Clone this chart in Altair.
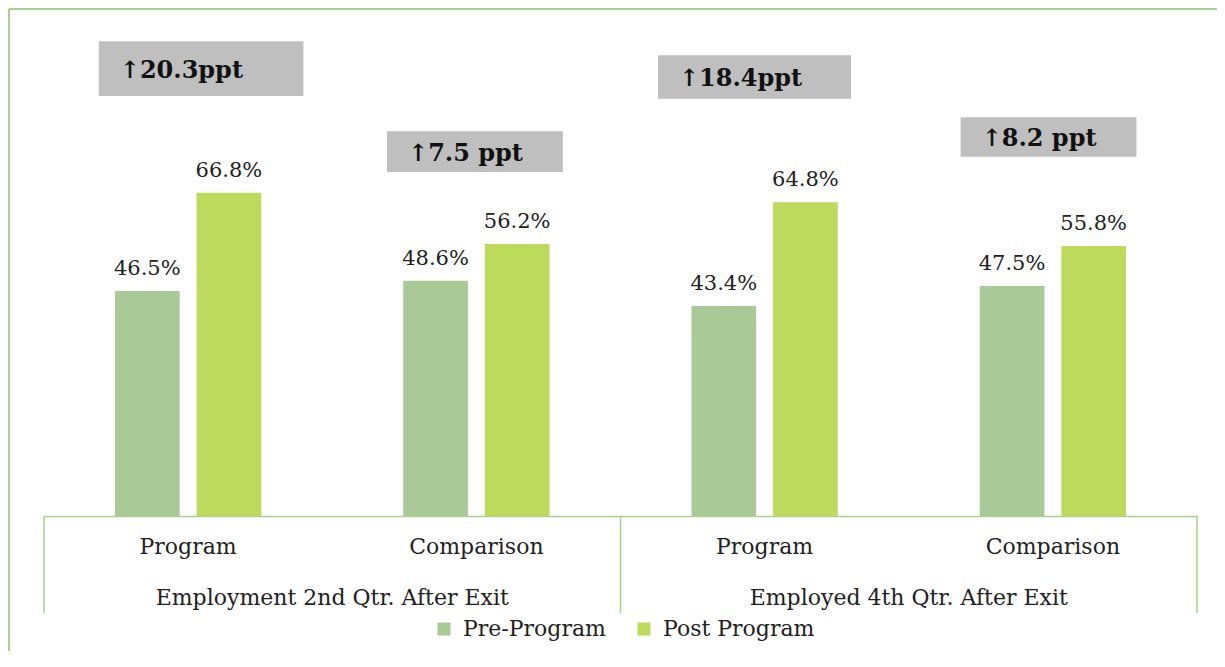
import altair as alt
import pandas as pd

# ---- data ----
groups = ["Employment 2nd Qtr. After Exit", "Employed 4th Qtr. After Exit"]
categories = ["Program", "Comparison"]
series = ["Pre-Program", "Post Program"]
pre_values = [46.5, 48.6, 43.4, 47.5]
post_values = [66.8, 56.2, 64.8, 55.8]
change_labels = ["↑20.3ppt", "↑7.5 ppt", "↑18.4ppt", "↑8.2 ppt"]
# annotation boxes (x in category units 0..4, y in percent units)
box_x_start = [0.19, 1.19, 2.13, 3.18]
box_x_end = [0.90, 1.80, 2.80, 3.79]
box_y_top = [98.1, 79.5, 95.2, 82.4]
box_y_bottom = [86.8, 71.1, 86.2, 74.2]

FONT = "DejaVu Serif"
GREEN_LINE = "#a9d18e"
PRE_COLOR = "#a9ca97"
POST_COLOR = "#bdda5c"

keys = []
rows = []
i = 0
for g_i, g in enumerate(groups):
    for c in categories:
        key = f"{c}|{g_i}"
        keys.append(key)
        rows.append({"key": key, "series": series[0], "value": pre_values[i]})
        rows.append({"key": key, "series": series[1], "value": post_values[i]})
        i += 1
bars_df = pd.DataFrame(rows)
bars_df["label"] = bars_df["value"].map(lambda v: f"{v:.1f}%")

ann_df = pd.DataFrame({
    "x": box_x_start, "x2": box_x_end,
    "y": box_y_top, "y2": box_y_bottom,
    "ym": [(a + b) / 2 for a, b in zip(box_y_top, box_y_bottom)],
    "label": change_labels,
})
group_df = pd.DataFrame({"x": [1, 3], "label": groups})
sep_df = pd.DataFrame({"x": [0, 2, 4]})

yscale = alt.Scale(domain=[0, 100])
xq = alt.Scale(domain=[0, 4])

x_band = alt.X("key:N", sort=keys, scale=alt.Scale(paddingInner=0, paddingOuter=0),
               axis=alt.Axis(title=None, labelAngle=0, ticks=False, domainColor=GREEN_LINE,
                             domainWidth=1.5, labelFont=FONT, labelFontSize=22,
                             labelColor="#222222", labelPadding=20,
                             labelExpr="split(datum.value, '|')[0]"))
xoff = alt.XOffset("series:N", sort=series, scale=alt.Scale(paddingInner=0.207, paddingOuter=0.87))

base = alt.Chart(bars_df)
bars = base.mark_bar().encode(
    x=x_band, xOffset=xoff,
    y=alt.Y("value:Q", scale=yscale, axis=None),
    color=alt.Color("series:N", sort=series,
                    scale=alt.Scale(domain=series, range=[PRE_COLOR, POST_COLOR]),
                    legend=alt.Legend(orient="none", legendX=389, legendY=586, direction="horizontal",
                                      title=None, symbolType="square", symbolSize=169,
                                      symbolStrokeWidth=0, labelFont=FONT, labelFontSize=22,
                                      labelColor="#222222", labelOffset=8, columnPadding=27)),
)
labels = base.mark_text(baseline="bottom", dy=-12, font=FONT, fontSize=21, color="#222222").encode(
    x=alt.X("key:N", sort=keys), xOffset=alt.XOffset("series:N", sort=series),
    y=alt.Y("value:Q", scale=yscale),
    text="label:N",
)
band_layer = alt.layer(bars, labels)

boxes = alt.Chart(ann_df).mark_rect(color="#bfbfbf").encode(
    x=alt.X("x:Q", scale=xq, axis=None), x2="x2:Q",
    y=alt.Y("y:Q", scale=yscale, axis=None), y2="y2:Q",
)
box_text = alt.Chart(ann_df).mark_text(align="left", baseline="middle", dx=21, dy=2,
                                        font=FONT, fontSize=24, fontWeight="bold",
                                        color="#111111").encode(
    x=alt.X("x:Q", scale=xq), y=alt.Y("ym:Q", scale=yscale), text="label:N",
)
group_text = alt.Chart(group_df).mark_text(baseline="middle", font=FONT, fontSize=22,
                                           color="#222222").encode(
    x=alt.X("x:Q", scale=xq), y=alt.value(566), text="label:N",
)
seps = alt.Chart(sep_df).mark_rule(color=GREEN_LINE, strokeWidth=1.5).encode(
    x=alt.X("x:Q", scale=xq), y=alt.value(484), y2=alt.value(581),
)
frame_top = alt.Chart(sep_df.head(1)).mark_rule(color=GREEN_LINE, strokeWidth=2, clip=False).encode(
    x=alt.value(-35), x2=alt.value(1200), y=alt.value(-23),
)
frame_left = alt.Chart(sep_df.head(1)).mark_rule(color=GREEN_LINE, strokeWidth=2, clip=False).encode(
    x=alt.value(-35), y=alt.value(-23), y2=alt.value(700),
)
quant_layer = alt.layer(boxes, box_text, group_text, seps, frame_top, frame_left)

chart = alt.layer(band_layer, quant_layer).resolve_scale(x="independent").properties(
    width=1153, height=484,
    background="white",
    autosize=alt.AutoSizeParams(type="none"),
    padding={"left": 36, "top": 24, "right": 20, "bottom": 135},
).configure_view(stroke="transparent", strokeWidth=0)

chart.save("out.html", embed_options={"renderer": "svg", "actions": False})
